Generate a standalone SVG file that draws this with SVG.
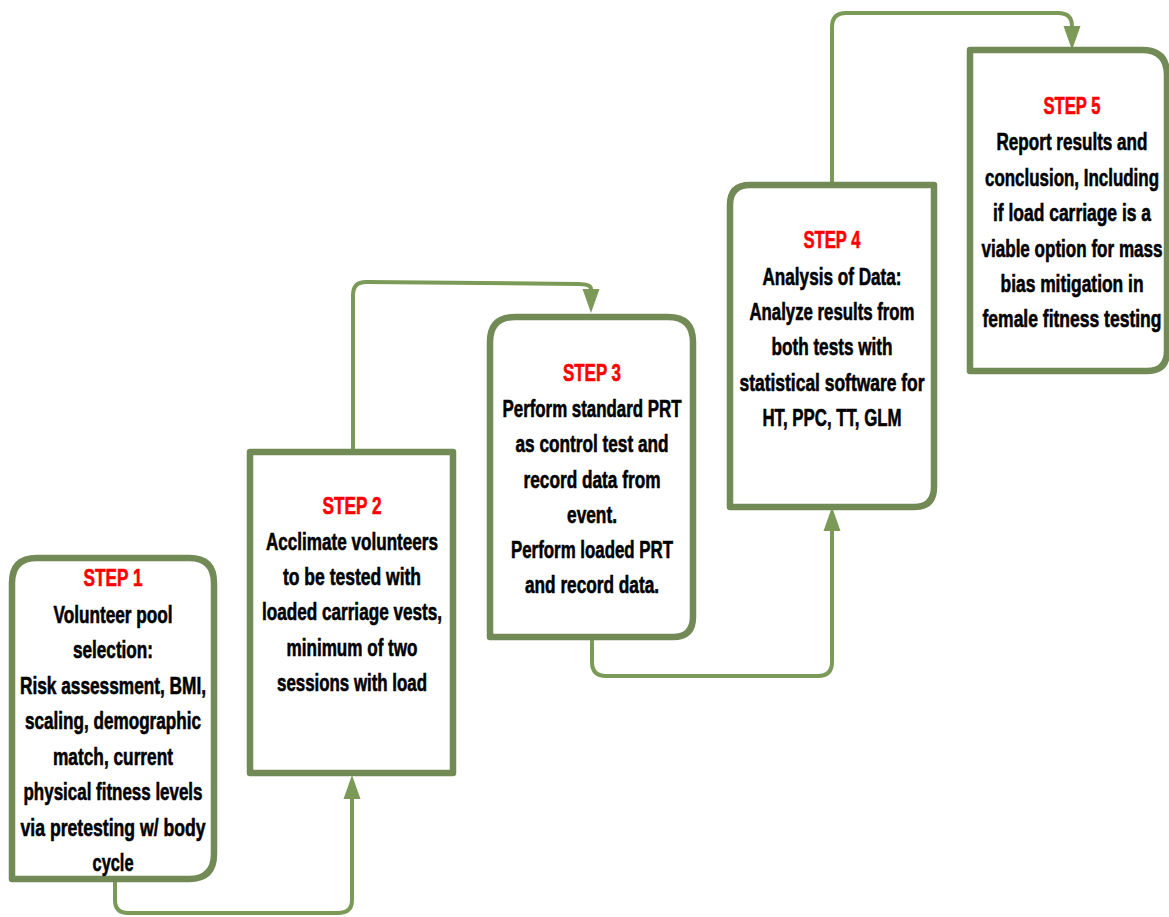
<svg xmlns="http://www.w3.org/2000/svg" width="1169" height="917" viewBox="0 0 1169 917">
<style>
.box{fill:#ffffff;stroke:#728a55;stroke-width:6.5;stroke-linejoin:round}
.con{fill:none;stroke:#7c9a57;stroke-width:4;stroke-linecap:round}
text{font-family:"Liberation Sans",Arial,sans-serif;font-weight:bold;font-size:24px;text-anchor:middle;fill:#000000;stroke:#000000;stroke-width:0.6}
.step{fill:#ff0000;stroke:#ff0000}
</style>
<defs>
<marker id="arr" markerUnits="userSpaceOnUse" markerWidth="26" markerHeight="20" refX="0" refY="8.5" orient="auto" overflow="visible">
<path d="M0,0 L24,8.5 L0,17 Z" fill="#7c9a57"/>
</marker>
</defs>
<rect width="1169" height="917" fill="#ffffff"/>
<g id="connectors">
<path class="con" marker-end="url(#arr)" d="M115,880 L115,900 Q115,913 128,913 L338,913 Q352,913 352,900 L352,799"/>
<path class="con" marker-end="url(#arr)" d="M353,452 L353,295 Q353,282 366,282 L578,284 Q591,284 591,289"/>
<path class="con" marker-end="url(#arr)" d="M592,638 L592,662 Q592,676 606,676 L818,676 Q832,676 832,662 L832,531"/>
<path class="con" marker-end="url(#arr)" d="M832,185 L832,27 Q832,13 846,13 L1058,13 Q1072,13 1072,26"/>
</g>
<g id="step1">
<path class="box" d="M12,879 L12,583 Q12,558 37,558 L189,558 Q214,558 214,583 L214,854 Q214,879 189,879 Z"/>
<g transform="translate(113,0) scale(0.72,1)">
<text class="step" x="0" y="586" textLength="81.9" lengthAdjust="spacingAndGlyphs">STEP 1</text>
<text x="0" y="623" textLength="165.3" lengthAdjust="spacingAndGlyphs">Volunteer pool</text>
<text x="0" y="658" textLength="111.1" lengthAdjust="spacingAndGlyphs">selection:</text>
<text x="0" y="694" textLength="258.3" lengthAdjust="spacingAndGlyphs">Risk assessment, BMI,</text>
<text x="0" y="729" textLength="244.4" lengthAdjust="spacingAndGlyphs">scaling, demographic</text>
<text x="0" y="765" textLength="166.7" lengthAdjust="spacingAndGlyphs">match, current</text>
<text x="0" y="800" textLength="248.6" lengthAdjust="spacingAndGlyphs">physical fitness levels</text>
<text x="0" y="836" textLength="256.9" lengthAdjust="spacingAndGlyphs">via pretesting w/ body</text>
<text x="0" y="871" textLength="56.9" lengthAdjust="spacingAndGlyphs">cycle</text>
</g>
</g>
<g id="step2">
<rect class="box" x="250" y="452" width="203" height="321"/>
<g transform="translate(352,0) scale(0.72,1)">
<text class="step" x="0" y="514" textLength="81.9" lengthAdjust="spacingAndGlyphs">STEP 2</text>
<text x="0" y="550" textLength="238.9" lengthAdjust="spacingAndGlyphs">Acclimate volunteers</text>
<text x="0" y="585" textLength="191.7" lengthAdjust="spacingAndGlyphs">to be tested with</text>
<text x="0" y="620" textLength="250" lengthAdjust="spacingAndGlyphs">loaded carriage vests,</text>
<text x="0" y="656" textLength="181.9" lengthAdjust="spacingAndGlyphs">minimum of two</text>
<text x="0" y="691" textLength="208.3" lengthAdjust="spacingAndGlyphs">sessions with load</text>
</g>
</g>
<g id="step3">
<path class="box" d="M490,637 L490,342 Q490,317 515,317 L668,317 Q693,317 693,342 L693,617 Q693,637 673,637 Z"/>
<g transform="translate(592,0) scale(0.72,1)">
<text class="step" x="0" y="381" textLength="80.6" lengthAdjust="spacingAndGlyphs">STEP 3</text>
<text x="0" y="417" textLength="248.6" lengthAdjust="spacingAndGlyphs">Perform standard PRT</text>
<text x="0" y="452" textLength="212.5" lengthAdjust="spacingAndGlyphs">as control test and</text>
<text x="0" y="488" textLength="190.3" lengthAdjust="spacingAndGlyphs">record data from</text>
<text x="0" y="523" textLength="69.4" lengthAdjust="spacingAndGlyphs">event.</text>
<text x="0" y="558" textLength="225" lengthAdjust="spacingAndGlyphs">Perform loaded PRT</text>
<text x="0" y="593" textLength="186.1" lengthAdjust="spacingAndGlyphs">and record data.</text>
</g>
</g>
<g id="step4">
<path class="box" d="M730,507 L730,205 Q730,185 750,185 L934,185 L934,487 Q934,507 914,507 Z"/>
<g transform="translate(832,0) scale(0.72,1)">
<text class="step" x="0" y="248" textLength="79.2" lengthAdjust="spacingAndGlyphs">STEP 4</text>
<text x="0" y="285" textLength="193.1" lengthAdjust="spacingAndGlyphs">Analysis of Data:</text>
<text x="0" y="320" textLength="229.2" lengthAdjust="spacingAndGlyphs">Analyze results from</text>
<text x="0" y="355" textLength="168.1" lengthAdjust="spacingAndGlyphs">both tests with</text>
<text x="0" y="391" textLength="256.9" lengthAdjust="spacingAndGlyphs">statistical software for</text>
<text x="0" y="426" textLength="193.1" lengthAdjust="spacingAndGlyphs">HT, PPC, TT, GLM</text>
</g>
</g>
<g id="step5">
<path class="box" d="M970,371 L970,50 L1142,50 Q1167,50 1167,75 L1167,351 Q1167,371 1147,371 Z"/>
<g transform="translate(1072,0) scale(0.72,1)">
<text class="step" x="0" y="114" textLength="79.2" lengthAdjust="spacingAndGlyphs">STEP 5</text>
<text x="0" y="150" textLength="209.7" lengthAdjust="spacingAndGlyphs">Report results and</text>
<text x="0" y="186" textLength="241.7" lengthAdjust="spacingAndGlyphs">conclusion, Including</text>
<text x="0" y="221" textLength="219.4" lengthAdjust="spacingAndGlyphs">if load carriage is a</text>
<text x="0" y="257" textLength="251.4" lengthAdjust="spacingAndGlyphs">viable option for mass</text>
<text x="0" y="292" textLength="198.6" lengthAdjust="spacingAndGlyphs">bias mitigation in</text>
<text x="0" y="327" textLength="248.6" lengthAdjust="spacingAndGlyphs">female fitness testing</text>
</g>
</g>
</svg>
